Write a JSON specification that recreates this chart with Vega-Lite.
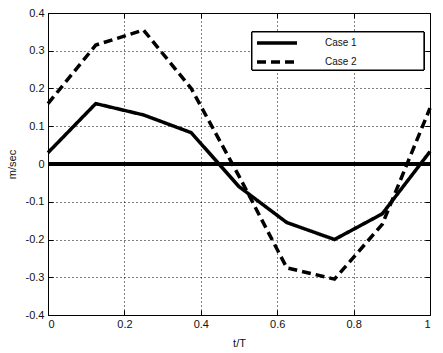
{
  "$schema": "https://vega.github.io/schema/vega-lite/v6.json",
  "width": 382,
  "height": 302,
  "autosize": {"type": "none"},
  "padding": {"left": 48, "top": 13, "right": 13, "bottom": 38},
  "background": "white",
  "config": {
    "font": "Liberation Sans",
    "view": {"stroke": "#000", "strokeWidth": 1},
    "axis": {
      "labelFont": "Liberation Sans",
      "labelFontSize": 11,
      "labelColor": "#111",
      "titleFont": "Liberation Sans",
      "titleFontSize": 11,
      "titleFontWeight": "normal",
      "titleColor": "#111",
      "domain": false,
      "tickColor": "#000",
      "tickSize": -5,
      "gridColor": "#000",
      "gridDash": [1, 3],
      "gridOpacity": 1,
      "gridWidth": 1
    }
  },
  "data": {
    "values": [
      {"t": 0, "v": 0.03, "case": "Case 1"},
      {"t": 0.125, "v": 0.16, "case": "Case 1"},
      {"t": 0.25, "v": 0.13, "case": "Case 1"},
      {"t": 0.375, "v": 0.083, "case": "Case 1"},
      {"t": 0.5, "v": -0.06, "case": "Case 1"},
      {"t": 0.625, "v": -0.155, "case": "Case 1"},
      {"t": 0.75, "v": -0.2, "case": "Case 1"},
      {"t": 0.875, "v": -0.132, "case": "Case 1"},
      {"t": 1, "v": 0.033, "case": "Case 1"},
      {"t": 0, "v": 0.16, "case": "Case 2"},
      {"t": 0.125, "v": 0.315, "case": "Case 2"},
      {"t": 0.25, "v": 0.355, "case": "Case 2"},
      {"t": 0.375, "v": 0.2, "case": "Case 2"},
      {"t": 0.5, "v": -0.032, "case": "Case 2"},
      {"t": 0.625, "v": -0.275, "case": "Case 2"},
      {"t": 0.75, "v": -0.305, "case": "Case 2"},
      {"t": 0.875, "v": -0.16, "case": "Case 2"},
      {"t": 1, "v": 0.148, "case": "Case 2"}
    ]
  },
  "layer": [
    {
      "mark": {"type": "line", "opacity": 0},
      "encoding": {
        "x": {"field": "t", "type": "quantitative", "scale": {"domain": [0, 1], "nice": false},
          "axis": {"orient": "top", "labels": false, "grid": false, "title": null, "values": [0, 0.2, 0.4, 0.6, 0.8, 1]}},
        "y": {"field": "v", "type": "quantitative", "scale": {"domain": [-0.4, 0.4], "nice": false},
          "axis": {"orient": "right", "labels": false, "grid": false, "title": null, "values": [-0.4, -0.3, -0.2, -0.1, 0, 0.1, 0.2, 0.3, 0.4]}},
        "detail": {"field": "case"}
      }
    },
    {
      "mark": {"type": "line", "color": "#000", "strokeWidth": 3.5},
      "encoding": {
        "x": {"field": "t", "type": "quantitative", "scale": {"domain": [0, 1], "nice": false},
          "axis": {"orient": "bottom", "title": "t/T", "grid": true, "format": "~g", "values": [0, 0.2, 0.4, 0.6, 0.8, 1], "labelPadding": 8, "titlePadding": 8}},
        "y": {"field": "v", "type": "quantitative", "scale": {"domain": [-0.4, 0.4], "nice": false},
          "axis": {"orient": "left", "title": "m/sec", "grid": true, "format": "~g", "values": [-0.4, -0.3, -0.2, -0.1, 0, 0.1, 0.2, 0.3, 0.4], "labelPadding": 9, "titlePadding": 8,
            "labelExpr": "replace(datum.label, '\u2212', '-')"}},
        "strokeDash": {"field": "case", "type": "nominal",
          "scale": {"domain": ["Case 1", "Case 2"], "range": [[1, 0], [9, 5]]},
          "legend": {
            "title": null, "orient": "none", "legendX": 204, "legendY": 19,
            "symbolType": "M-4,0H4", "symbolSize": 100, "symbolStrokeWidth": 3.5, "symbolStrokeColor": "#000",
            "symbolFillColor": "transparent",
            "labelFont": "Liberation Sans", "labelFontSize": 10, "labelColor": "#111", "labelOffset": 41,
            "padding": 4, "rowPadding": 5, "symbolLimit": 0,
            "symbolOffset": 14
          }}
      }
    },
    {
      "mark": {"type": "rule", "color": "#000", "strokeWidth": 3},
      "encoding": {
        "y": {"datum": 0, "type": "quantitative", "axis": null},
        "x": {"datum": 0, "type": "quantitative", "axis": null},
        "x2": {"datum": 1}
      }
    },
    {
      "mark": {"type": "rect", "fill": "#fff", "stroke": "#000", "strokeWidth": 1},
      "encoding": {
        "x": {"datum": 0.534, "type": "quantitative", "axis": null},
        "x2": {"datum": 0.984},
        "y": {"datum": 0.3497, "type": "quantitative", "axis": null},
        "y2": {"datum": 0.249}
      }
    }
  ],
  "resolve": {"axis": {"x": "independent", "y": "independent"}}
}
